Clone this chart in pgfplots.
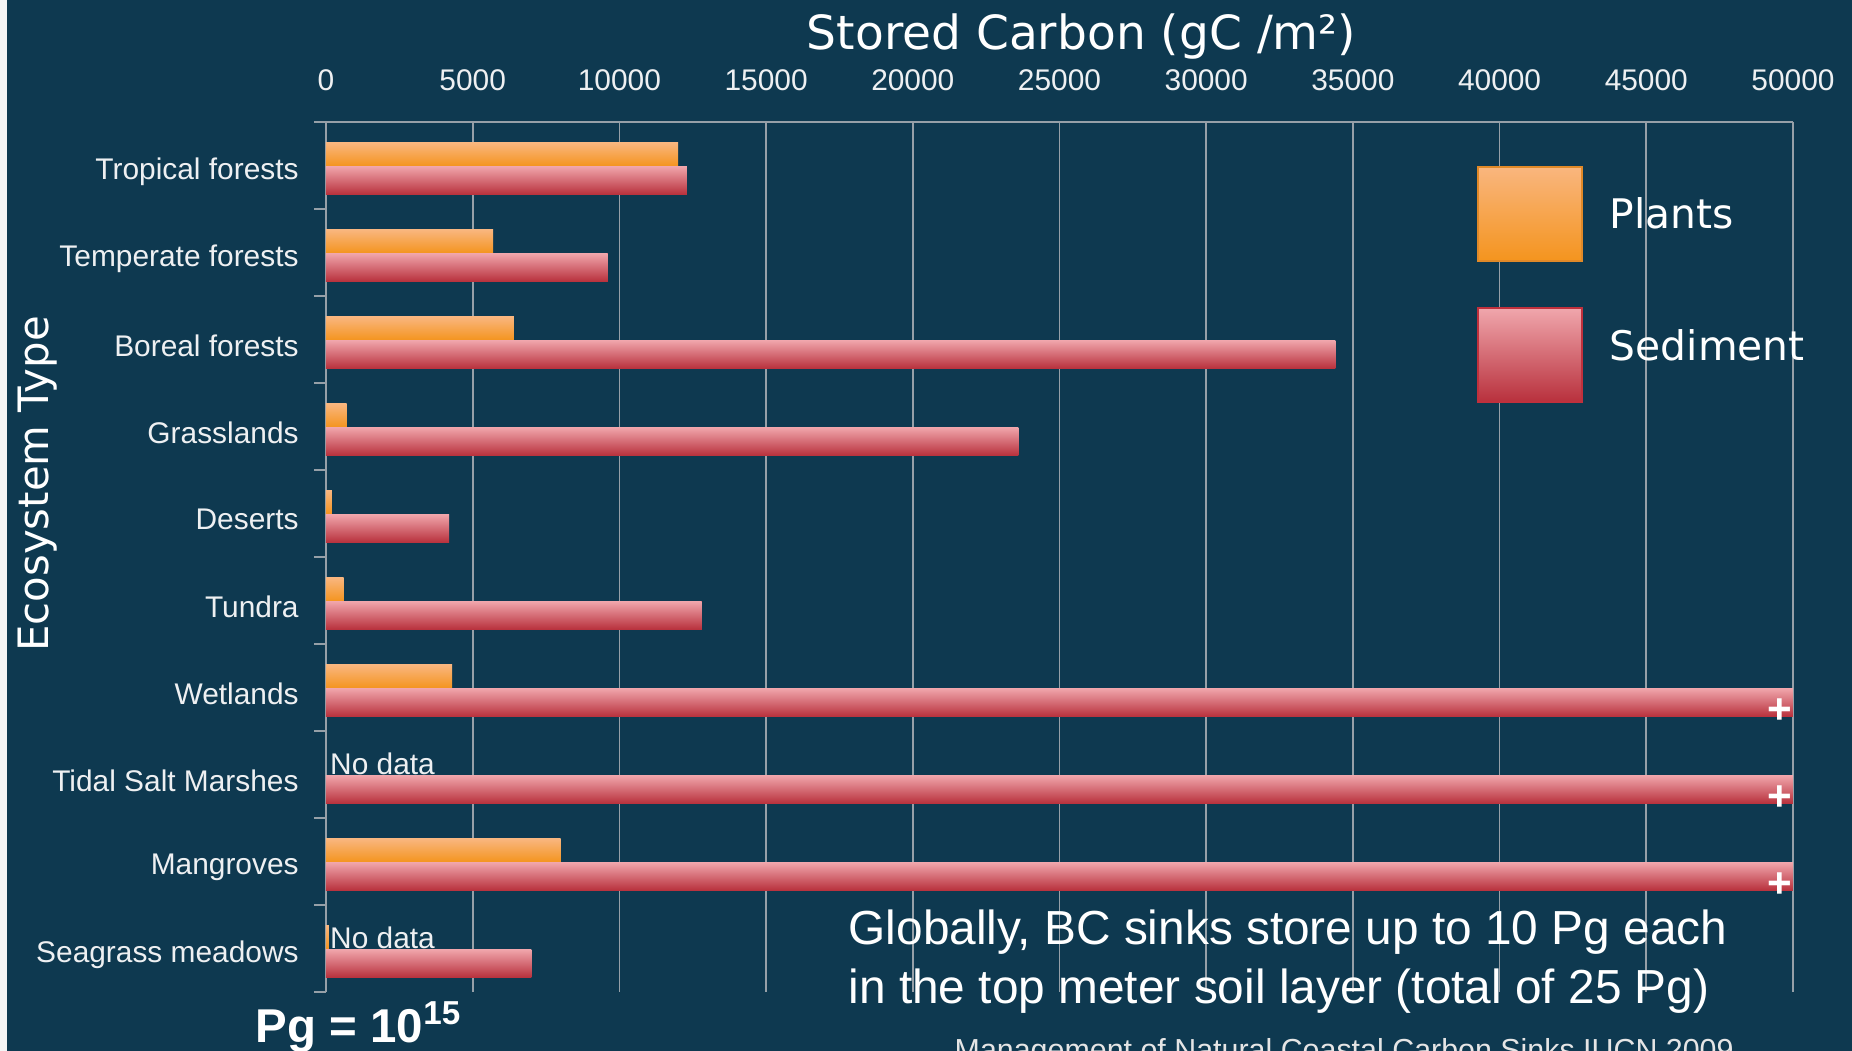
\documentclass[border=0pt]{standalone}
\usepackage{pgfplots}
\pgfplotsset{compat=1.18}
\usepackage{pgfplotstable}
\usepackage{fontspec}
\setmainfont{Liberation Sans}
\newfontfamily\dejavu{DejaVu Sans}

\definecolor{bg}{RGB}{14,57,80}
\definecolor{orTop}{RGB}{249,182,126}
\definecolor{orBot}{RGB}{244,148,30}
\definecolor{orEdge}{RGB}{224,137,40}
\definecolor{rdTop}{RGB}{240,166,172}
\definecolor{rdBot}{RGB}{184,48,60}
\definecolor{rdEdge}{RGB}{192,48,60}
\definecolor{gridc}{RGB}{150,160,168}
\definecolor{lbl}{RGB}{238,240,242}

\pgfplotsset{
  orbar/.style={xbar, bar width=0.269, bar shift=-0.126, draw=none, fill=orBot,
    top color=orTop, bottom color=orBot},
  rdbar/.style={xbar, bar width=0.326, bar shift=0.172, draw=none, fill=rdBot,
    top color=rdTop, bottom color=rdBot},
  orleg/.style={legend image code/.code={\draw[##1, draw=orEdge, line width=0.6pt]
      (0cm,-0.47cm) rectangle (1.04cm,0.47cm);}},
  rdleg/.style={legend image code/.code={\draw[##1, draw=rdEdge, line width=0.6pt]
      (0cm,-0.47cm) rectangle (1.04cm,0.47cm);}},
}

% categories: 0 = Tropical forests ... 9 = Seagrass meadows
\pgfplotstableread{
cat plants
0 12000
1 5700
2 6400
3 700
4 200
5 600
6 4300
8 8000
9 100
}\plantsdata
\pgfplotstableread{
cat sediment
0 12300
1 9600
2 34400
3 23600
4 4200
5 12800
6 50000
7 50000
8 50000
9 7000
}\sedimentdata

\begin{document}
\begin{tikzpicture}
\fill[bg] (0,0) rectangle (18.52,10.51);
\fill[white!92!gray] (0,0) rectangle (0.07,10.51);
\begin{axis}[
    at={(3.26cm,0.59cm)}, anchor=south west,
    scale only axis, width=14.67cm, height=8.70cm,
    xbar,
    xmin=0, xmax=50000,
    ymin=-0.5, ymax=9.5,
    y dir=reverse,
    enlargelimits=false,
    axis x line*=top,
    axis y line*=left,
    axis line style={-, draw=gridc, line width=0.6pt},
    xtick={0,5000,...,50000},
    scaled x ticks=false,
    /pgf/number format/1000 sep={},
    /pgf/number format/assume math mode=true,
    xtick style={draw=none},
    xmajorgrids,
    major grid style={draw=gridc, line width=0.5pt},
    ytick={0,...,9},
    yticklabels={Tropical forests, Temperate forests, Boreal forests, Grasslands,
      Deserts, Tundra, Wetlands, Tidal Salt Marshes, Mangroves, Seagrass meadows},
    ytick style={draw=none},
    minor ytick={-0.5,0.5,...,9.5},
    minor y tick style={draw=gridc, line width=0.6pt},
    minor tick length=0.12cm,
    tick align=outside,
    tick label style={font=\fontsize{8.5}{10}\selectfont, text=lbl},
    xticklabel style={yshift=0.04cm},
    yticklabel style={yshift=-0.06cm},
    xlabel={Stored Carbon (gC /m²)},
    xlabel style={at={(axis description cs:0.515,1.098)}, anchor=center,
      font=\dejavu\fontsize{13.4}{16}\selectfont, text=white},
    ylabel={Ecosystem Type},
    ylabel style={at={(axis description cs:-0.1968,0.584)}, anchor=center,
      font=\dejavu\fontsize{11.9}{14}\selectfont, text=white},
    legend cell align=left,
    legend style={at={(0.784,0.950)}, anchor=north west, draw=none, fill=none,
      inner sep=0pt, row sep=0.45cm, text=white,
      font=\dejavu\fontsize{11.6}{14}\selectfont,
      /tikz/every odd column/.append style={column sep=0.20cm}},
]
% one plot per bar, so that each bar gets its own shading
\pgfplotsinvokeforeach{0,...,8}{
  \addplot[orbar, forget plot, restrict expr to domain={\coordindex}{#1:#1}]
    table[x=plants, y=cat] {\plantsdata};
}
\pgfplotsinvokeforeach{0,...,9}{
  \addplot[rdbar, forget plot, restrict expr to domain={\coordindex}{#1:#1}]
    table[x=sediment, y=cat] {\sedimentdata};
}
\addlegendimage{orbar, orleg}
\addlegendentry{\raisebox{-1pt}{Plants}}
\addlegendimage{rdbar, rdleg}
\addlegendentry{\raisebox{4.3pt}{Sediment}}
% "+" marks on the bars that run past the axis
\addplot[xbar, forget plot, bar width=0.326, bar shift=0.172, draw=none, fill=none,
    nodes near coords={+},
    every node near coord/.append style={anchor=center, xshift=-0.13cm, yshift=-0.09cm,
      text=white, font=\bfseries\fontsize{12}{12}\selectfont}]
  coordinates {(50000,6) (50000,7) (50000,8)};
% "No data" for plants
\addplot[xbar, forget plot, bar width=0.269, bar shift=-0.126, draw=none, fill=none,
    nodes near coords={No data},
    every node near coord/.append style={anchor=west, inner sep=1pt,
      text=lbl, font=\fontsize{8.5}{10}\selectfont}]
  coordinates {(0,7) (0,9)};
\end{axis}
\node[anchor=base west, inner sep=0pt, text=white, font=\fontsize{13.6}{16}\selectfont]
  at (8.48,1.06) {Globally, BC sinks store up to 10 Pg each};
\node[anchor=base west, inner sep=0pt, text=white, font=\fontsize{13.6}{16}\selectfont]
  at (8.48,0.47) {in the top meter soil layer (total of 25 Pg)};
\node[anchor=base, text=white, font=\bfseries\fontsize{13.5}{16}\selectfont]
  at (3.59,0.08) {Pg = 10\textsuperscript{15}};
\node[anchor=base west, inner sep=0pt, text=white!80!gray, font=\fontsize{8.65}{10}\selectfont]
  at (9.54,-0.10) {Management of Natural Coastal Carbon Sinks IUCN 2009};
\pgfresetboundingbox
\useasboundingbox (0,0) rectangle (18.52,10.51);
\end{tikzpicture}
\end{document}
